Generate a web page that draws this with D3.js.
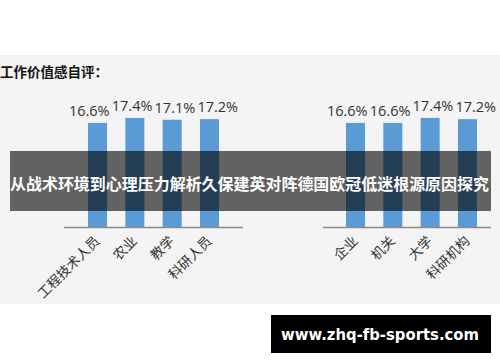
<!DOCTYPE html>
<html><head><meta charset="utf-8">
<script src="https://cdn.jsdelivr.net/npm/d3@7"></script>
<style>html,body{margin:0;padding:0;background:#fff;}svg{display:block;}</style>
</head><body><svg id="c" width="500" height="362"></svg>
<script>
const title = "工作价值感自评：";
const leftCategories = ["工程技术人员", "农业", "教学", "科研人员"];
const leftValues = [16.6, 17.4, 17.1, 17.2];
const rightCategories = ["企业", "机关", "大学", "科研机构"];
const rightValues = [16.6, 16.6, 17.4, 17.2];
const bannerText = "从战术环境到心理压力解析久保建英对阵德国欧冠低迷根源原因探究";
const siteText = "www.zhq-fb-sports.com";

const svg = d3.select("#c");
const CJK = "'Noto Sans CJK SC', 'Noto Sans', sans-serif";

// background panel
svg.append("rect").attr("x", 0).attr("y", 55).attr("width", 500).attr("height", 249).attr("fill", "#f4f4f4");

svg.append("text").attr("x", 0).attr("y", 77).text(title)
  .attr("font-family", CJK).attr("font-weight", "bold").attr("font-size", 13.5).attr("fill", "#111");

const baseY = 227;
const y = d3.scaleLinear().domain([0, 20]).range([baseY, baseY - 125.4]);

function panel(cats, vals, x0, x1, axisX0, axisX1) {
  const x = d3.scaleBand().domain(cats).range([x0, x1]).paddingInner(0.49).paddingOuter(0);
  const g = svg.append("g");
  g.selectAll("rect.bar").data(vals).join("rect").attr("class", "bar")
    .attr("x", (d, i) => x(cats[i])).attr("width", x.bandwidth())
    .attr("y", d => y(d)).attr("height", d => baseY - y(d)).attr("fill", "#5b9bd5");
  g.append("line").attr("x1", axisX0).attr("x2", axisX1).attr("y1", baseY + 0.5).attr("y2", baseY + 0.5)
    .attr("stroke", "#8a8a8a").attr("stroke-width", 1.5);
  g.selectAll("text.val").data(vals).join("text").attr("class", "val")
    .attr("x", (d, i) => x(cats[i]) + x.bandwidth() / 2 + (i - 1.5) * 5.5)
    .attr("y", d => y(d) - 7)
    .attr("text-anchor", "middle").attr("font-family", "'Open Sans', 'Noto Sans', sans-serif")
    .attr("font-size", 14.5).attr("fill", "#333").text(d => d.toFixed(1) + "%");
  g.selectAll("text.cat").data(cats).join("text").attr("class", "cat")
    .attr("transform", d => `translate(${x(d) + x.bandwidth() / 2 + 3},${baseY + 15}) rotate(-45)`)
    .attr("text-anchor", "end").attr("font-family", CJK).attr("font-size", 13.5).attr("fill", "#333")
    .text(d => d);
}
panel(leftCategories, leftValues, 88, 219, 64, 243);
panel(rightCategories, rightValues, 346, 477, 323, 491);

// banner overlay
svg.append("rect").attr("x", 10).attr("y", 151).attr("width", 481).attr("height", 60).attr("fill", "rgba(0,0,0,0.6)");
svg.append("text").attr("x", 249.5).attr("y", 190).attr("text-anchor", "middle")
  .attr("font-family", CJK).attr("font-weight", "bold").attr("font-size", 15.5).attr("fill", "#fff")
  .attr("textLength", 479).attr("lengthAdjust", "spacingAndGlyphs").text(bannerText);

// site box
svg.append("rect").attr("x", 271).attr("y", 315).attr("width", 220).attr("height", 38).attr("fill", "#000");
svg.append("text").attr("x", 380).attr("y", 340).attr("text-anchor", "middle")
  .attr("font-family", "'DejaVu Sans', Verdana, sans-serif").attr("font-weight", "bold").attr("font-size", 15).attr("fill", "#fff")
  .attr("textLength", 198).attr("lengthAdjust", "spacingAndGlyphs").text(siteText);
</script></body></html>
